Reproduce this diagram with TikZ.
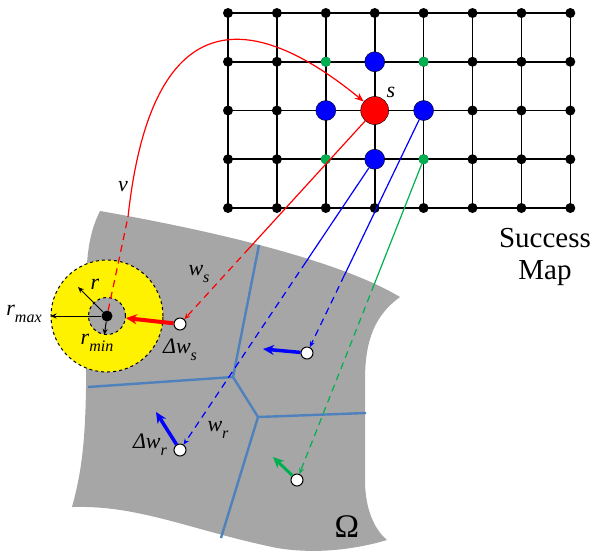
\documentclass[tikz,border=0pt]{standalone}
\usepackage{fontspec}
\setmainfont{Liberation Serif}
\usetikzlibrary{arrows.meta,calc}

\definecolor{regiongray}{HTML}{A6A6A6}
\definecolor{cellblue}{HTML}{4F81BD}
\definecolor{nbgreen}{HTML}{00B050}

% italic letter with a large, lowered index
\newcommand{\lab}[2]{\textit{#1}\raisebox{-0.3em}{\fontsize{16}{16}\selectfont\textit{#2}}}

\begin{document}
\begin{tikzpicture}[x=1pt, y=-1pt,
  gnode/.style  = {circle, fill=black, inner sep=0pt, minimum size=10pt},
  winner/.style = {circle, draw, thin, fill=red, inner sep=0pt, minimum size=28pt},
  nbr/.style    = {circle, draw, thin, fill=blue, inner sep=0pt, minimum size=20pt},
  corner/.style = {circle, fill=nbgreen, inner sep=0pt, minimum size=10pt},
  wnode/.style  = {circle, draw, line width=1pt, fill=white, inner sep=0pt, minimum size=12pt},
  map/.style    = {line width=1.6pt},
  cell/.style   = {cellblue, line width=2.4pt, line join=round},
  link/.style   = {line width=1.2pt},
  proj/.style   = {line width=1.2pt, dash pattern=on 7pt off 5pt,
                   -{Stealth[length=6pt,width=5pt]}},
  upd/.style    = {line width=3.5pt, -{Stealth[length=11pt,width=10pt]}},
  rarrow/.style = {line width=1pt, -{Stealth[length=6pt,width=5pt]}},
  lbl/.style    = {font=\fontsize{22}{22}\selectfont, inner sep=1pt},
]
\useasboundingbox (0,0) rectangle (593,550);

% input space
\fill[regiongray] (100,211) .. controls (180,225) and (330,255) .. (400,297)
  .. controls (375,315) and (365,340) .. (365,380) -- (365,480)
  .. controls (365,510) and (375,530) .. (387,540)
  .. controls (360,548) and (320,555) .. (277,548)
  .. controls (190,530) and (140,505) .. (72,507)
  .. controls (85,460) and (87,420) .. (86,320)
  .. controls (85,260) and (88,235) .. (100,211) -- cycle;

% voronoi cells
\coordinate (va) at (233,377);
\coordinate (vb) at (258,417);
\coordinate (vt) at (259,245);
\coordinate (vl) at (88,387);
\coordinate (vr) at (366,413);
\coordinate (vd) at (221,538);
\draw[cell] (vt) -- (va) -- (vb) -- (vd);
\draw[cell] (vl) -- (va);
\draw[cell] (vb) -- (vr);

% neighbourhood radius
\node[circle, draw, dashed, line width=1pt, fill=yellow, minimum size=112pt] (zone) at (107,316) {};
\node[circle, draw, dashed, line width=1pt, fill=regiongray, minimum size=37pt] (core) at (zone) {};
\node[circle, fill=black, inner sep=0pt, minimum size=11pt] (c) at (zone) {};

% success map
\foreach \i in {0,...,7}
  \foreach \j in {0,...,4}
    \node[gnode] (n-\i-\j) at ({228+48.9*\i},{13+48.75*\j}) {};
\foreach \j in {0,...,4}
  \draw[map] (n-0-\j.center) -- (n-7-\j.center);
\foreach \i in {0,...,7}
  \draw[map] (n-\i-0.center) -- (n-\i-4.center);

\node[winner] (S) at (n-3-2) {};
\node[nbr] (bu) at (n-3-1) {};
\node[nbr] (bl) at (n-2-2) {};
\node[nbr] (br) at (n-4-2) {};
\node[nbr] (bd) at (n-3-3) {};
\node[corner] (gul) at (n-2-1) {};
\node[corner] (gur) at (n-4-1) {};
\node[corner] (gdl) at (n-2-3) {};
\node[corner] (gdr) at (n-4-3) {};

% weights
\node[wnode] (ws) at (180,324) {};
\node[wnode] (wn) at (307,353) {};
\node[wnode] (wr) at (180,450) {};
\node[wnode] (wg) at (297,480) {};

% where the links enter the input space
\coordinate (xs) at ($(S)!0.645!(ws)$);
\coordinate (xn) at ($(br)!0.68!(wn)$);
\coordinate (xr) at ($(bd)!0.354!(wr)$);
\coordinate (xg) at ($(gdr)!0.39!(wg)$);
\coordinate (xv) at (128,217);

\draw[link, red] (S) -- (xs);
\draw[proj, red] (xs) -- (ws);
\draw[link, blue] (br) -- (xn);
\draw[proj, blue] (xn) -- (wn);
\draw[link, blue] (bd) -- (xr);
\draw[proj, blue] (xr) -- (wr);
\draw[link, nbgreen] (gdr) -- (xg);
\draw[proj, nbgreen] (xg) -- (wg);

\draw[link, red, dash pattern=on 7pt off 5pt] (c) -- (xv);
\draw[link, red, -{Stealth[length=9pt,width=7pt]}] (xv) .. controls (150,15) and (240,0) .. (S);

% updates
\coordinate (dn) at (263,349);
\coordinate (dr) at (156,412);
\coordinate (dg) at (273,457);
\draw[upd, red, line width=4pt] (ws) -- (core);
\draw[upd, blue] (wn) -- (dn);
\draw[upd, blue] (wr) -- (dr);
\draw[upd, nbgreen, line width=3pt] (wg) -- (dg);

\coordinate (rtip) at (78,287);
\draw[rarrow] (c) -- (rtip);
\draw[rarrow] (c) -- (zone.west);
\draw[rarrow] (c) -- (core.262);

% labels
\node[lbl] (lv) at (123,187) {\textit{v}};
\node[lbl] (ls) at (391,92) {\textit{s}};
\node[lbl] (lws) at (199,274) {\lab{w}{s}};
\node[lbl] (ldws) at (180,350) {\lab{Δw}{s}};
\node[lbl] (lwr) at (218,430) {\lab{w}{r}};
\node[lbl] (ldwr) at (150,445) {\lab{Δw}{r}};
\node[lbl] (lrmin) at (97,343) {\lab{r}{min}};
\node[lbl] (lrmax) at (24,314) {\lab{r}{max}};
\node[lbl] (lr) at (95,284) {\textit{r}};
\node[font=\fontsize{29}{32}\selectfont, align=center] (title) at (545,257) {Success\\Map};
\node[font=\fontsize{33}{33}\selectfont] (omega) at (347,527) {Ω};
\end{tikzpicture}
\end{document}
